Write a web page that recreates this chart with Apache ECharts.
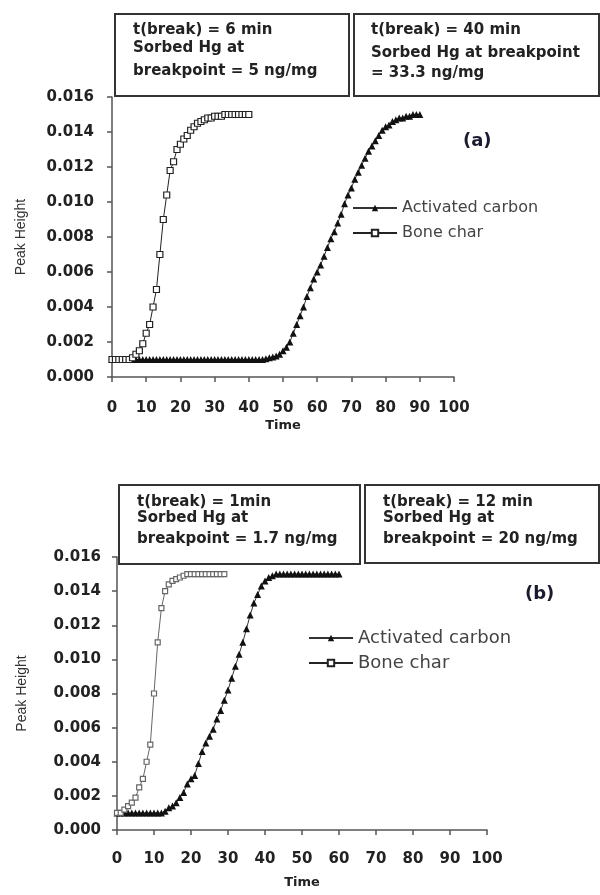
<!DOCTYPE html>
<html>
<head>
<meta charset="utf-8">
<script src="https://cdn.jsdelivr.net/npm/echarts@6/dist/echarts.min.js"></script>
<style>
  html, body { margin: 0; padding: 0; background: #fff; }
  #chart { width: 600px; height: 895px; }
</style>
</head>
<body>
<div id="chart"></div>
<script>
// (a) 数据：按分钟取点
var boneA = [0.001, 0.001, 0.001, 0.001, 0.001, 0.001, 0.0011, 0.0013, 0.0015, 0.0019,
    0.0025, 0.003, 0.004, 0.005, 0.007, 0.009, 0.0104, 0.0118, 0.0123, 0.013,
    0.0133, 0.0136, 0.0138, 0.0141, 0.0143, 0.0145, 0.0146, 0.0147, 0.0148, 0.0148,
    0.0149, 0.0149, 0.0149, 0.015, 0.015, 0.015, 0.015, 0.015, 0.015, 0.015, 0.015];

var carbonA = [0.001, 0.001, 0.001, 0.001, 0.001, 0.001, 0.001, 0.001, 0.001, 0.001,
    0.001, 0.001, 0.001, 0.001, 0.001, 0.001, 0.001, 0.001, 0.001, 0.001,
    0.001, 0.001, 0.001, 0.001, 0.001, 0.001, 0.001, 0.001, 0.001, 0.001,
    0.001, 0.001, 0.001, 0.001, 0.001, 0.001, 0.001, 0.001, 0.001, 0.001,
    0.001, 0.001, 0.001, 0.001, 0.001, 0.00105, 0.0011, 0.00115, 0.0012, 0.0013,
    0.0015, 0.0017, 0.002, 0.0025, 0.003, 0.0035, 0.004, 0.0046, 0.0051, 0.0056,
    0.006, 0.0064, 0.0069, 0.0074, 0.0079, 0.0083, 0.0088, 0.0093, 0.0099, 0.0104,
    0.0108, 0.0113, 0.0117, 0.0121, 0.0125, 0.0129, 0.0132, 0.0135, 0.0138, 0.0141,
    0.0143, 0.0144, 0.0146, 0.0147, 0.0148, 0.0148, 0.0149, 0.0149, 0.015, 0.015, 0.015];

// (b) 数据
var boneB = [0.001, 0.001, 0.0012, 0.0014, 0.0016, 0.0019, 0.0025, 0.003, 0.004, 0.005,
    0.008, 0.011, 0.013, 0.014, 0.0144, 0.0146, 0.0147, 0.0148, 0.0149, 0.015,
    0.015, 0.015, 0.015, 0.015, 0.015, 0.015, 0.015, 0.015, 0.015, 0.015];

var carbonB = [0.001, 0.001, 0.001, 0.001, 0.001, 0.001, 0.001, 0.001, 0.001, 0.001,
    0.001, 0.001, 0.001, 0.0011, 0.0013, 0.0014, 0.0016, 0.0019, 0.0022, 0.0027,
    0.003, 0.0032, 0.0039, 0.0046, 0.0051, 0.0055, 0.0059, 0.0065, 0.007, 0.0076,
    0.0082, 0.0089, 0.0096, 0.0103, 0.011, 0.0118, 0.0126, 0.0133, 0.0138, 0.0143,
    0.0146, 0.0148, 0.0149, 0.015, 0.015, 0.015, 0.015, 0.015, 0.015, 0.015,
    0.015, 0.015, 0.015, 0.015, 0.015, 0.015, 0.015, 0.015, 0.015, 0.015, 0.015];

var seriesNames = ["Activated carbon", "Bone char"];
var boxTexts = [
    ["t(break) = 6 min", "Sorbed Hg at", "breakpoint = 5 ng/mg"],
    ["t(break) = 40 min", "Sorbed Hg at breakpoint", "= 33.3 ng/mg"],
    ["t(break) = 1min", "Sorbed Hg at", "breakpoint = 1.7 ng/mg"],
    ["t(break) = 12 min", "Sorbed Hg at", "breakpoint = 20 ng/mg"]
];

// 下标即分钟
function pairs(arr) {
    return arr.map(function(v, i) { return [i, v]; });
}

var boldFont = "DejaVu Sans";
var axisColor = "#555";

function xAxisOf(grid, margin, gap) {
    return {
        type: "value", gridIndex: grid, min: 0, max: 100, interval: 10,
        name: "Time", nameLocation: "middle", nameGap: gap,
        nameTextStyle: { fontFamily: boldFont, fontWeight: "bold", fontSize: 13, color: "#222" },
        axisLine: { show: true, lineStyle: { color: axisColor, width: 1.5 } },
        axisTick: { show: true, length: 5, lineStyle: { color: axisColor, width: 1.5 } },
        axisLabel: { margin: margin, fontFamily: boldFont, fontWeight: "bold", fontSize: 15, color: "#222" },
        splitLine: { show: false }
    };
}

function yAxisOf(grid, margin, gap) {
    return {
        type: "value", gridIndex: grid, min: 0, max: 0.016, interval: 0.002,
        name: "Peak Height", nameLocation: "middle", nameGap: gap, nameRotate: 90,
        nameTextStyle: { fontFamily: "Liberation Sans", fontSize: 14, color: "#333" },
        axisLine: { show: true, lineStyle: { color: axisColor, width: 1.5 } },
        axisTick: { show: true, length: 5, lineStyle: { color: axisColor, width: 1.5 } },
        axisLabel: {
            margin: margin, fontFamily: boldFont, fontWeight: "bold", fontSize: 15, color: "#222",
            formatter: function(v) { return v.toFixed(3); }
        },
        splitLine: { show: false }
    };
}

function lineOf(name, idx, data, symbol, fill, stroke, size) {
    return {
        name: name, type: "line", xAxisIndex: idx, yAxisIndex: idx,
        data: pairs(data),
        symbol: symbol, symbolSize: size,
        showAllSymbol: true, animation: false,
        lineStyle: { color: stroke, width: 1 },
        itemStyle: { color: fill, borderColor: stroke, borderWidth: symbol === "rect" ? 1.2 : 0 }
    };
}

// 文本框：每行单独定位
function box(x, y, w, h, lines, tx, rows) {
    var children = [{
        type: "rect", shape: { x: 0, y: 0, width: w, height: h },
        style: { fill: "#fff", stroke: "#333", lineWidth: 2 }
    }];
    lines.forEach(function(t, i) {
        children.push({
            type: "text", x: tx, y: rows[i],
            style: { text: t, font: "bold 15px " + boldFont, fill: "#222", verticalAlign: "middle" }
        });
    });
    return { type: "group", left: x, top: y, children: children };
}

var chart = echarts.init(document.getElementById("chart"));
chart.setOption({
    animation: false,
    grid: [
        { left: 112, top: 97, width: 342, height: 280 },
        { left: 117, top: 557, width: 370, height: 273 }
    ],
    xAxis: [xAxisOf(0, 24, 42), xAxisOf(1, 22, 46)],
    yAxis: [yAxisOf(0, 18, 84), yAxisOf(1, 16, 88)],
    legend: [{
        orient: "vertical", left: 352, top: 200, padding: 0,
        itemWidth: 44, itemHeight: 8, itemGap: 9,
        data: seriesNames,
        textStyle: { fontFamily: "DejaVu Sans", fontSize: 16, lineHeight: 16, color: "#444" }
    }, {
        orient: "vertical", left: 308, top: 629, padding: 0,
        itemWidth: 44, itemHeight: 8, itemGap: 7,
        data: seriesNames,
        textStyle: { fontFamily: "DejaVu Sans", fontSize: 18, lineHeight: 18, color: "#444" }
    }],
    series: [
        lineOf(seriesNames[0], 0, carbonA, "triangle", "#111", "#333", 7),
        lineOf(seriesNames[1], 0, boneA, "rect", "#fff", "#222", 6),
        lineOf(seriesNames[0], 1, carbonB, "triangle", "#111", "#333", 7),
        lineOf(seriesNames[1], 1, boneB, "rect", "#fff", "#666", 5)
    ],
    graphic: [
        box(114, 13, 234, 82, boxTexts[0], 18, [16, 34, 57]),
        box(353, 13, 245, 82, boxTexts[1], 17, [16, 39, 59]),
        box(118, 484, 241, 79, boxTexts[2], 18, [17, 33, 54]),
        box(364, 484, 234, 78, boxTexts[3], 18, [17, 33, 54]),
        { type: "text", left: 463, top: 132, style: { text: "(a)", font: "bold 18px " + boldFont, fill: "#1a1a30" } },
        { type: "text", left: 525, top: 585, style: { text: "(b)", font: "bold 18px " + boldFont, fill: "#1a1a30" } }
    ]
});
</script>
</body>
</html>
